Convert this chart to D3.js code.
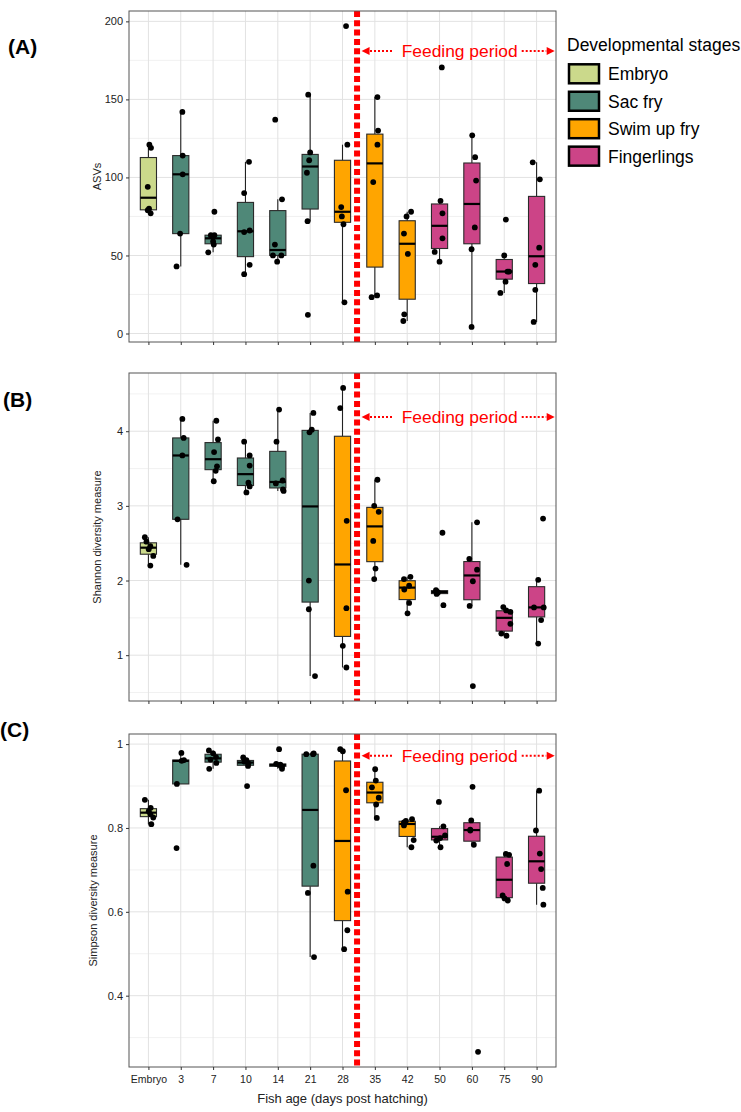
<!DOCTYPE html>
<html>
<head>
<meta charset="utf-8">
<script src="https://cdn.jsdelivr.net/npm/d3@7"></script>
<style>
  body { margin: 0; background: #fff; }
  svg { display: block; font-family: "Liberation Sans", Arial, sans-serif; }
</style>
</head>
<body>
<svg id="chart" width="741" height="1112"></svg>
<script>
// categories (fish age) and the stage each one belongs to
var ages = ["Embryo", "3", "7", "10", "14", "21", "28", "35", "42", "50", "60", "75", "90"];
var stages = ["Embryo", "Sac fry", "Swim up fry", "Fingerlings"];
var stageColors = ["#cbd98b", "#4f8878", "#ffa500", "#cc4487"];
var ageStage = [0, 1, 1, 1, 1, 1, 2, 2, 2, 3, 3, 3, 3];

// per sample values, as [value, jitter] (jitter in category widths)
var asvPoints = [
  [[121, 0.03], [119, 0.08], [94, -0.02], [80, 0.02], [79, -0.02], [77, 0.07]],
  [[142, 0.05], [114, 0.06], [102, 0.06], [64, -0.02], [43, -0.13]],
  [[78, 0.04], [63, -0.07], [63, 0.04], [59, 0], [57, 0.02], [52, -0.15]],
  [[110, 0.11], [90, -0.04], [66, 0.13], [65, -0.04], [44, 0.13], [38, -0.04]],
  [[137, -0.08], [86, 0.13], [57, -0.09], [50, -0.15], [50, 0.11], [46, -0.02]],
  [[153, -0.06], [116, 0], [111, -0.03], [103, -0.1], [72, -0.08], [12, -0.07]],
  [[197, 0.11], [121, 0.15], [81, -0.04], [75, -0.02], [70, 0.03], [20, 0.06]],
  [[151.5, 0.08], [130, 0.1], [121, 0.08], [97, -0.05], [23.3, -0.1], [24.4, 0.07]],
  [[78, 0.12], [75, -0.02], [64, -0.1], [51, 0.02], [12.3, -0.09], [8, -0.12]],
  [[170.5, 0.07], [85, 0.03], [77, 0.09], [61, 0.09], [52.3, -0.15], [46, 0]],
  [[127, 0.01], [113, 0.1], [98, 0.13], [68, 0.09], [54, -0.01], [4.2, -0.01]],
  [[73, 0.05], [50, 0], [39.7, 0.1], [39.7, 0.15], [33.2, 0.04], [26, -0.12]],
  [[109.7, -0.12], [98.8, 0.1], [55, 0.08], [44, -0.04], [28, -0.04], [7.4, -0.09]]
];
var shannonPoints = [
  [[2.58, -0.11], [2.52, -0.06], [2.46, 0.06], [2.42, 0.01], [2.33, 0.15], [2.2, 0.06]],
  [[4.165, 0.05], [3.91, 0.09], [3.675, 0.05], [2.82, -0.1], [2.21, 0.18]],
  [[4.14, 0.1], [3.89, 0.15], [3.72, 0.03], [3.53, 0.12], [3.47, 0.08], [3.33, 0.02]],
  [[3.86, -0.04], [3.675, 0.13], [3.54, 0.13], [3.31, 0.09], [3.26, 0.13], [3.18, 0.03]],
  [[4.29, 0.04], [3.86, -0.04], [3.34, 0.15], [3.30, -0.06], [3.22, 0.16], [3.20, 0.18]],
  [[4.245, 0.1], [4.02, 0.05], [3.985, -0.02], [2.0, -0.04], [1.615, -0.04], [0.72, 0.15]],
  [[4.58, 0.02], [4.31, -0.07], [2.80, 0.13], [1.63, 0.12], [1.125, 0.01], [0.835, 0.12]],
  [[3.35, 0.08], [3.0, -0.02], [2.92, 0.12], [2.53, -0.05], [2.16, 0.02], [2.02, -0.02]],
  [[2.05, 0.1], [2.02, -0.1], [1.93, 0.06], [1.88, -0.09], [1.70, 0.06], [1.56, 0.01]],
  [[2.64, 0.09], [1.87, -0.11], [1.85, -0.08], [1.84, -0.05], [1.82, -0.09], [1.67, 0.12]],
  [[2.78, 0.16], [2.29, -0.08], [2.146, 0.16], [1.99, 0.03], [1.66, -0.07], [0.586, 0.03]],
  [[1.645, -0.03], [1.60, 0.06], [1.58, 0.19], [1.42, 0.19], [1.29, -0.09], [1.26, 0.07]],
  [[2.83, 0.2], [2.01, 0.05], [1.64, -0.08], [1.64, 0.22], [1.47, 0.14], [1.156, 0.05]]
];
var simpsonPoints = [
  [[0.867, -0.11], [0.848, 0.07], [0.840, 0.01], [0.833, 0.06], [0.825, 0.15], [0.809, 0.09]],
  [[0.979, 0.02], [0.962, 0.1], [0.96, 0.03], [0.905, -0.12], [0.752, -0.13]],
  [[0.985, -0.13], [0.978, 0], [0.969, 0.09], [0.963, -0.08], [0.955, 0.1], [0.941, -0.12]],
  [[0.968, -0.07], [0.962, 0.03], [0.958, -0.03], [0.954, 0.09], [0.948, 0.08], [0.90, 0.05]],
  [[0.988, 0.04], [0.953, -0.05], [0.951, 0.08], [0.950, 0.05], [0.946, 0.13], [0.941, 0.13]],
  [[0.978, 0.11], [0.976, -0.12], [0.976, 0.09], [0.71, 0.1], [0.645, -0.07], [0.492, 0.12]],
  [[0.988, -0.07], [0.983, 0.01], [0.89, 0.11], [0.648, 0.16], [0.556, 0.15], [0.511, 0.05]],
  [[0.94, 0.01], [0.913, 0.03], [0.897, -0.09], [0.872, 0.12], [0.856, 0.04], [0.824, 0.06]],
  [[0.821, 0.15], [0.817, -0.04], [0.813, -0.1], [0.806, -0.1], [0.771, 0.2], [0.754, 0.13]],
  [[0.862, -0.02], [0.804, 0.12], [0.782, 0.17], [0.776, 0.02], [0.77, -0.1], [0.754, 0.03]],
  [[0.898, 0.02], [0.818, -0.02], [0.796, -0.05], [0.794, -0.05], [0.76, 0.06], [0.266, 0.19]],
  [[0.738, 0.05], [0.736, 0.15], [0.714, 0.09], [0.639, -0.05], [0.632, 0.01], [0.627, 0.11]],
  [[0.889, 0.08], [0.794, -0.02], [0.739, 0.1], [0.702, 0.14], [0.657, 0.19], [0.617, 0.21]]
];

// tick labels
var asvTicks = [0, 50, 100, 150, 200];
var shannonTicks = [1, 2, 3, 4];
var simpsonTicks = [0.4, 0.6, 0.8, 1];

// feeding starts between day 28 and day 35 (category index, 1 based)
var feedingStart = 7.45;

var svg = d3.select("#chart");
svg.append("rect").attr("width", 741).attr("height", 1112).attr("fill", "#fff");

var left = 129, right = 556;
// continuous x over category indices, ggplot style expansion of 0.6
var xi = d3.scaleLinear().domain([0.4, ages.length + 0.6]).range([left, right]);
var xcat = d3.scalePoint().domain(ages).range([xi(1), xi(ages.length)]);
var step = xi(2) - xi(1);

var panels = [
  {label: "(A)", lx: 8, ly: 54, top: 11, bottom: 342, pts: asvPoints, ticks: asvTicks, minor: [25, 75, 125, 175],
   title: "ASVs", tx: 97, fmt: d3.format("d"), ann: 181},
  {label: "(B)", lx: 3, ly: 407, top: 373, bottom: 701, pts: shannonPoints, ticks: shannonTicks, minor: [0.5, 1.5, 2.5, 3.5, 4.5],
   title: "Shannon diversity measure", tx: 97, fmt: d3.format("d"), ann: 4.19},
  {label: "(C)", lx: 0, ly: 737, top: 734, bottom: 1067, pts: simpsonPoints, ticks: simpsonTicks, minor: [0.3, 0.5, 0.7, 0.9],
   title: "Simpson diversity measure", tx: 93, fmt: d3.format("~g"), ann: 0.972}
];

function boxStats(vals) {
  var s = vals.slice().sort(d3.ascending);
  var q1 = d3.quantileSorted(s, 0.25), med = d3.quantileSorted(s, 0.5), q3 = d3.quantileSorted(s, 0.75);
  var iqr = q3 - q1;
  var lo = d3.min(s.filter(function(v) { return v >= q1 - 1.5 * iqr; }));
  var hi = d3.max(s.filter(function(v) { return v <= q3 + 1.5 * iqr; }));
  return {q1: q1, med: med, q3: q3, lo: lo, hi: hi};
}

panels.forEach(function(p, pi) {
  var allVals = [];
  p.pts.forEach(function(g) { g.forEach(function(d) { allVals.push(d[0]); }); });
  var ext = d3.extent(allVals);
  var pad = (ext[1] - ext[0]) * 0.05;
  var y = d3.scaleLinear().domain([ext[0] - pad, ext[1] + pad]).range([p.bottom, p.top]);

  var g = svg.append("g");

  // grid
  var minor = p.minor.filter(function(v) { return v > y.domain()[0] && v < y.domain()[1]; });
  g.selectAll(".minor").data(minor).enter().append("line")
    .attr("x1", left).attr("x2", right)
    .attr("y1", function(d) { return y(d); }).attr("y2", function(d) { return y(d); })
    .attr("stroke", "#eeeeee").attr("stroke-width", 0.8);
  g.selectAll(".major").data(p.ticks).enter().append("line")
    .attr("x1", left).attr("x2", right)
    .attr("y1", function(d) { return y(d); }).attr("y2", function(d) { return y(d); })
    .attr("stroke", "#e2e2e2").attr("stroke-width", 1);
  g.selectAll(".vgrid").data(ages).enter().append("line")
    .attr("x1", function(d) { return xcat(d); }).attr("x2", function(d) { return xcat(d); })
    .attr("y1", p.top).attr("y2", p.bottom)
    .attr("stroke", "#e2e2e2").attr("stroke-width", 1);

  // boxplots
  var bw = step * 0.5;
  p.pts.forEach(function(grp, i) {
    var st = boxStats(grp.map(function(d) { return d[0]; }));
    var cx = xcat(ages[i]);
    g.append("line").attr("x1", cx).attr("x2", cx).attr("y1", y(st.hi)).attr("y2", y(st.q3))
      .attr("stroke", "#222").attr("stroke-width", 1.1);
    g.append("line").attr("x1", cx).attr("x2", cx).attr("y1", y(st.q1)).attr("y2", y(st.lo))
      .attr("stroke", "#222").attr("stroke-width", 1.1);
    g.append("rect").attr("x", cx - bw / 2).attr("width", bw)
      .attr("y", y(st.q3)).attr("height", Math.max(0.5, y(st.q1) - y(st.q3)))
      .attr("fill", stageColors[ageStage[i]]).attr("stroke", "#2a2a2a").attr("stroke-width", 1.1);
    g.append("line").attr("x1", cx - bw / 2).attr("x2", cx + bw / 2)
      .attr("y1", y(st.med)).attr("y2", y(st.med))
      .attr("stroke", "#000").attr("stroke-width", 2.2);
  });

  // jittered samples
  p.pts.forEach(function(grp, i) {
    g.selectAll(null).data(grp).enter().append("circle")
      .attr("cx", function(d) { return xcat(ages[i]) + d[1] * step; })
      .attr("cy", function(d) { return y(d[0]); })
      .attr("r", 2.9).attr("fill", "#000");
  });

  // feeding boundary
  g.append("line").attr("x1", xi(feedingStart)).attr("x2", xi(feedingStart))
    .attr("y1", p.top).attr("y2", p.bottom)
    .attr("stroke", "#ff0000").attr("stroke-width", 6).attr("stroke-dasharray", "6,3.3");

  // feeding period annotation
  var ay = y(p.ann);
  g.append("line").attr("x1", xi(7.85)).attr("x2", xi(8.56)).attr("y1", ay).attr("y2", ay)
    .attr("stroke", "#ff0000").attr("stroke-width", 2).attr("stroke-dasharray", "2,2");
  g.append("path").attr("d", "M" + xi(7.59) + "," + ay + "l8,-4l0,8z").attr("fill", "#ff0000");
  g.append("line").attr("x1", xi(12.54)).attr("x2", xi(13.3)).attr("y1", ay).attr("y2", ay)
    .attr("stroke", "#ff0000").attr("stroke-width", 2).attr("stroke-dasharray", "2,2");
  g.append("path").attr("d", "M" + xi(13.56) + "," + ay + "l-8,-4l0,8z").attr("fill", "#ff0000");
  g.append("text").attr("x", xi(8.83)).attr("y", ay + 6)
    .attr("fill", "#ff0000").style("font-size", "17.4px").text("Feeding period");

  // border
  g.append("rect").attr("x", left).attr("y", p.top).attr("width", right - left).attr("height", p.bottom - p.top)
    .attr("fill", "none").attr("stroke", "#555").attr("stroke-width", 1);

  // axes
  var ya = g.append("g").attr("transform", "translate(" + left + ",0)")
    .call(d3.axisLeft(y).tickValues(p.ticks).tickFormat(p.fmt).tickSize(3).tickPadding(3));
  ya.select(".domain").remove();
  ya.selectAll("line").attr("stroke", "#333");
  ya.selectAll("text").attr("fill", "#222").style("font-size", "11px");

  var xa = g.append("g").attr("transform", "translate(0," + p.bottom + ")")
    .call(d3.axisBottom(xcat).tickSize(3).tickPadding(6));
  xa.select(".domain").remove();
  xa.selectAll("line").attr("stroke", "#333");
  xa.selectAll("text").attr("fill", "#222").style("font-size", "10.5px");
  if (pi < 2) xa.selectAll("text").remove();

  // titles
  g.append("text").attr("transform", "translate(" + p.tx + "," + ((p.top + p.bottom) / 2) + ") rotate(-90)")
    .attr("text-anchor", "middle").attr("dy", "0.35em")
    .style("font-size", "11px").attr("fill", "#222").text(p.title);
  g.append("text").attr("x", p.lx).attr("y", p.ly)
    .style("font-size", "21px").style("font-weight", "bold").attr("fill", "#000").text(p.label);
});

svg.append("text").attr("x", (left + right) / 2).attr("y", 1103)
  .attr("text-anchor", "middle").style("font-size", "13px").attr("fill", "#222")
  .text("Fish age (days post hatching)");

// legend
var lg = svg.append("g");
lg.append("text").attr("x", 567).attr("y", 51).style("font-size", "17.5px").attr("fill", "#000")
  .text("Developmental stages");
var keys = lg.selectAll(".key").data(stages).enter().append("g")
  .attr("transform", function(d, i) { return "translate(569," + (64.3 + i * 27.45) + ")"; });
keys.append("rect").attr("width", 30).attr("height", 19)
  .attr("fill", function(d, i) { return stageColors[i]; })
  .attr("stroke", "#000").attr("stroke-width", 2.5);
keys.append("text").attr("x", 39).attr("y", 16).style("font-size", "17.5px").attr("fill", "#000")
  .text(function(d) { return d; });
</script>
</body>
</html>
